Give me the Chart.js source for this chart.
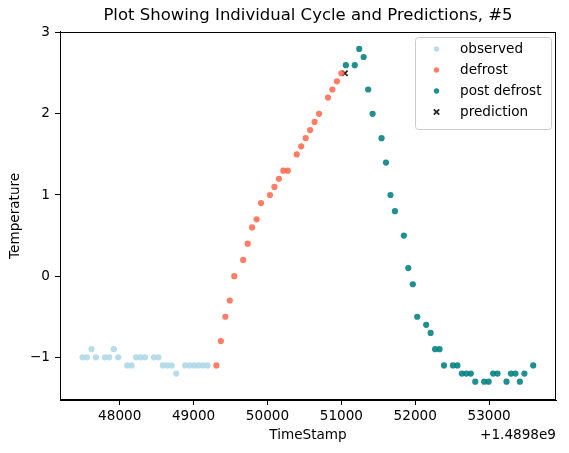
<!DOCTYPE html>
<html>
<head>
<meta charset="utf-8">
<script src="https://cdn.jsdelivr.net/npm/chart.js@4.4.1/dist/chart.umd.min.js"></script>
<style>
  html, body { margin: 0; padding: 0; background: #ffffff; }
  #wrap { width: 569px; height: 453px; position: relative; }
</style>
</head>
<body>
<div id="wrap"><canvas id="c" width="569" height="453"></canvas></div>
<script>
const TITLE = 'Plot Showing Individual Cycle and Predictions, #5';
const X_LABEL = 'TimeStamp';
const Y_LABEL = 'Temperature';
const X_OFFSET = 1489800000;
const X_OFFSET_LABEL = '+1.4898e9';

const observedTime = [1489847497, 1489847557, 1489847618, 1489847678, 1489847799, 1489847859, 1489847920, 1489847980,
  1489848101, 1489848161, 1489848222, 1489848282, 1489848343, 1489848463, 1489848524, 1489848584, 1489848645,
  1489848705, 1489848765, 1489848886, 1489848947, 1489849007, 1489849067, 1489849128, 1489849188];
const observedTemp = [-1.0, -1.0, -0.9, -1.0, -1.0, -1.0, -0.9, -1.0,
  -1.1, -1.1, -1.0, -1.0, -1.0, -1.0, -1.0, -1.1, -1.1,
  -1.1, -1.2, -1.1, -1.1, -1.1, -1.1, -1.1, -1.1];

const defrostTime = [1489849309, 1489849369, 1489849430, 1489849490, 1489849551, 1489849671, 1489849732, 1489849792,
  1489849853, 1489849913, 1489850034, 1489850094, 1489850155, 1489850215, 1489850275, 1489850396, 1489850457,
  1489850517, 1489850577, 1489850638, 1489850698, 1489850819, 1489850879, 1489850940, 1489851000];
const defrostTemp = [-1.1, -0.8, -0.5, -0.3, 0.0, 0.2, 0.4, 0.6,
  0.7, 0.9, 1.0, 1.1, 1.2, 1.3, 1.3, 1.5, 1.6,
  1.7, 1.8, 1.9, 2.0, 2.2, 2.3, 2.4, 2.5];

const postTime = [1489851061, 1489851181, 1489851242, 1489851302, 1489851363, 1489851423, 1489851544, 1489851604,
  1489851665, 1489851725, 1489851846, 1489851906, 1489851967, 1489852027, 1489852148, 1489852208, 1489852269,
  1489852329, 1489852389, 1489852510, 1489852571, 1489852631, 1489852691, 1489852752, 1489852812, 1489852933,
  1489852993, 1489853054, 1489853114, 1489853235, 1489853295, 1489853356, 1489853416, 1489853477, 1489853597];
const postTemp = [2.6, 2.6, 2.8, 2.7, 2.3, 2.0, 1.7, 1.4,
  1.0, 0.8, 0.5, 0.1, -0.1, -0.5, -0.6, -0.7, -0.9,
  -0.9, -1.1, -1.1, -1.1, -1.2, -1.2, -1.2, -1.3, -1.3,
  -1.3, -1.2, -1.2, -1.3, -1.2, -1.2, -1.3, -1.2, -1.1];

const predictionTime = [1489851048];
const predictionTemp = [2.5];

const xTicks = [1489848000, 1489849000, 1489850000, 1489851000, 1489852000, 1489853000];
const yTicks = [-1, 0, 1, 2, 3];

const FONT = "'DejaVu Sans', 'Liberation Sans', sans-serif";

const pts = (xs, ys) => xs.map((x, i) => ({ x: x, y: ys[i] }));

const seriesStyle = [
  { label: 'observed', color: 'rgba(173,216,230,0.88)', style: 'circle' },
  { label: 'defrost', color: 'rgba(255,99,71,0.84)', style: 'circle' },
  { label: 'post defrost', color: 'rgba(0,128,128,0.88)', style: 'circle' },
  { label: 'prediction', color: '#222222', style: 'crossRot' }
];

const customLegend = {
  id: 'customLegend',
  afterDraw(chart) {
    const ctx = chart.ctx;
    ctx.save();
    const x0 = 415.5, y0 = 37.5, w = 136, h = 92, r = 3;
    ctx.beginPath();
    ctx.moveTo(x0 + r, y0);
    ctx.lineTo(x0 + w - r, y0);
    ctx.arcTo(x0 + w, y0, x0 + w, y0 + r, r);
    ctx.lineTo(x0 + w, y0 + h - r);
    ctx.arcTo(x0 + w, y0 + h, x0 + w - r, y0 + h, r);
    ctx.lineTo(x0 + r, y0 + h);
    ctx.arcTo(x0, y0 + h, x0, y0 + h - r, r);
    ctx.lineTo(x0, y0 + r);
    ctx.arcTo(x0, y0, x0 + r, y0, r);
    ctx.closePath();
    ctx.fillStyle = 'rgba(255,255,255,0.8)';
    ctx.fill();
    ctx.strokeStyle = '#cccccc';
    ctx.lineWidth = 1;
    ctx.stroke();

    const rows = [49, 70, 91, 112];
    ctx.font = '13.6px ' + FONT;
    ctx.textBaseline = 'middle';
    ctx.textAlign = 'left';
    seriesStyle.forEach((s, i) => {
      const y = rows[i];
      const mx = 436.5;
      if (s.style === 'circle') {
        ctx.beginPath();
        ctx.arc(mx, y, 2.7, 0, Math.PI * 2);
        ctx.fillStyle = s.color;
        ctx.fill();
      } else {
        ctx.beginPath();
        ctx.moveTo(mx - 2.7, y - 2.7); ctx.lineTo(mx + 2.7, y + 2.7);
        ctx.moveTo(mx - 2.7, y + 2.7); ctx.lineTo(mx + 2.7, y - 2.7);
        ctx.strokeStyle = s.color;
        ctx.lineWidth = 1.7;
        ctx.stroke();
      }
      ctx.fillStyle = '#000000';
      ctx.fillText(s.label, 460, y);
    });

    // axis offset text
    ctx.textAlign = 'right';
    ctx.textBaseline = 'middle';
    ctx.fillText(X_OFFSET_LABEL, 556, 435);
    ctx.restore();
  }
};

const frame = {
  id: 'frame',
  afterDatasetsDraw(chart) {
    const a = chart.chartArea, ctx = chart.ctx;
    ctx.save();
    ctx.strokeStyle = '#000000';
    ctx.lineWidth = 1;
    ctx.strokeRect(Math.round(a.left) + 0.5, Math.round(a.top) + 0.5,
      Math.round(a.right - a.left) - 1, Math.round(a.bottom - a.top) - 1);
    ctx.restore();
  }
};

new Chart(document.getElementById('c'), {
  type: 'scatter',
  data: {
    datasets: [
      { label: seriesStyle[0].label, data: pts(observedTime, observedTemp), backgroundColor: seriesStyle[0].color, borderWidth: 0, pointRadius: 3.1, pointStyle: 'circle' },
      { label: seriesStyle[1].label, data: pts(defrostTime, defrostTemp), backgroundColor: seriesStyle[1].color, borderWidth: 0, pointRadius: 3.1, pointStyle: 'circle' },
      { label: seriesStyle[2].label, data: pts(postTime, postTemp), backgroundColor: seriesStyle[2].color, borderWidth: 0, pointRadius: 3.1, pointStyle: 'circle' },
      { label: seriesStyle[3].label, data: pts(predictionTime, predictionTemp), borderColor: seriesStyle[3].color, backgroundColor: seriesStyle[3].color, borderWidth: 1.7, pointRadius: 3.8, pointStyle: 'crossRot' }
    ]
  },
  options: {
    responsive: false,
    animation: false,
    devicePixelRatio: 1,
    layout: { padding: { left: 0, right: 13, top: 0, bottom: 0 } },
    plugins: {
      legend: { display: false },
      tooltip: { enabled: false },
      title: {
        display: true,
        fullSize: false,
        text: TITLE,
        color: '#000000',
        font: { family: FONT, size: 16.5, weight: 'normal', lineHeight: 1.2 },
        padding: { top: 6, bottom: 5.9 }
      }
    },
    scales: {
      x: {
        type: 'linear',
        min: 1489847192,
        max: 1489853905,
        afterFit(s) { s.height = 53; },
        afterBuildTicks(s) { s.ticks = xTicks.map(v => ({ value: v })); },
        grid: { drawOnChartArea: false, drawTicks: true, tickLength: 5, color: '#000000', tickColor: '#000000' },
        border: { display: true, color: '#000000', width: 1 },
        ticks: {
          color: '#000000',
          padding: 3,
          maxRotation: 0,
          font: { family: FONT, size: 13.6 },
          callback: (v) => String(Math.round(v - X_OFFSET))
        },
        title: {
          display: true,
          text: X_LABEL,
          color: '#000000',
          font: { family: FONT, size: 13.6, lineHeight: 1.2 },
          padding: { top: 0, bottom: 9.7 }
        }
      },
      y: {
        type: 'linear',
        min: -1.526,
        max: 3.012,
        afterFit(s) { s.width = 60; },
        afterBuildTicks(s) { s.ticks = yTicks.map(v => ({ value: v })); },
        grid: { drawOnChartArea: false, drawTicks: true, tickLength: 5, color: '#000000', tickColor: '#000000' },
        border: { display: true, color: '#000000', width: 1 },
        ticks: {
          color: '#000000',
          padding: 5,
          font: { family: FONT, size: 13.6 },
          callback: (v) => (v < 0 ? '\u2212' + Math.abs(v) : String(v))
        },
        title: {
          display: true,
          text: Y_LABEL,
          color: '#000000',
          font: { family: FONT, size: 13.6, lineHeight: 1.2 },
          padding: { top: 7, bottom: 0 }
        }
      }
    }
  },
  plugins: [frame, customLegend]
});
</script>
</body>
</html>
